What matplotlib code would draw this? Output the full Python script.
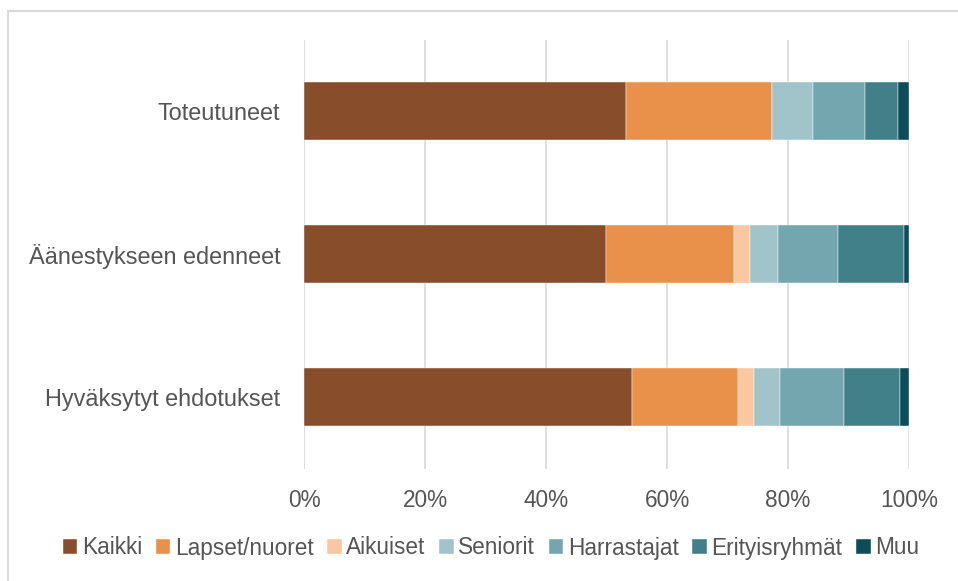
import numpy as np
import matplotlib.pyplot as plt
from matplotlib.patches import Rectangle
from matplotlib.ticker import PercentFormatter

plt.rcParams['font.family'] = ['Liberation Sans', 'DejaVu Sans']

categories = ["Toteutuneet", "Äänestykseen edenneet", "Hyväksytyt ehdotukset"]
groups = ["Kaikki", "Lapset/nuoret", "Aikuiset", "Seniorit",
          "Harrastajat", "Erityisryhmät", "Muu"]
colors = ["#884E2B", "#E9914A", "#FAC8A0", "#A1C4CA",
          "#74A6B0", "#418089", "#0D4D58"]

# share (%) of each group per category
kaikki = [53.2, 49.9, 54.2]
lapset = [24.1, 21.2, 17.5]
aikuiset = [0.0, 2.6, 2.6]
seniorit = [6.9, 4.6, 4.3]
harrastajat = [8.6, 9.9, 10.6]
erityis = [5.3, 11.0, 9.3]
muu = [1.9, 0.8, 1.5]

values = np.array([kaikki, lapset, aikuiset, seniorit, harrastajat, erityis, muu])
values = values / values.sum(axis=0)  # 100 % stacked

fig = plt.figure(figsize=(9.58, 5.81), dpi=100)
ax = fig.add_axes([0.3173, 0.1936, 0.6316, 0.7384])

# light chart border like the spreadsheet export
fig.patches.append(Rectangle((8 / 958, -0.05), 1.2, 1 - 11 / 581 + 0.05,
                             transform=fig.transFigure, fill=False,
                             edgecolor="#D9D9D9", linewidth=1.5))

y = np.arange(len(categories))
left = np.zeros(len(categories))
for name, col, vals in zip(groups, colors, values):
    ax.barh(y, vals, left=left, height=0.405, color=col, label=name,
            edgecolor="white", linewidth=0.3, zorder=3)
    left += vals

ax.set_xlim(0, 1)
ax.set_ylim(2.5, -0.5)
ax.set_yticks(y)
ax.set_yticklabels(categories)
ax.set_xticks(np.linspace(0, 1, 6))
ax.xaxis.set_major_formatter(PercentFormatter(1.0, decimals=0))

ax.grid(axis="x", color="#D9D9D9", linewidth=1.2, zorder=0)
for s in ax.spines.values():
    s.set_visible(False)
ax.tick_params(axis="both", length=0, labelcolor="#555555")
ax.tick_params(axis="x", pad=15, labelsize=16.3)
ax.tick_params(axis="y", pad=17, labelsize=16.9)

ax.legend(loc="center", bbox_to_anchor=(491 / 958, 1 - 548 / 581),
          bbox_transform=fig.transFigure, ncol=7, frameon=False,
          fontsize=16.3, labelcolor="#555555", handlelength=0.65,
          handleheight=0.65, handletextpad=0.2, columnspacing=0.6,
          borderpad=0)

fig.savefig("out.png", dpi=100)
